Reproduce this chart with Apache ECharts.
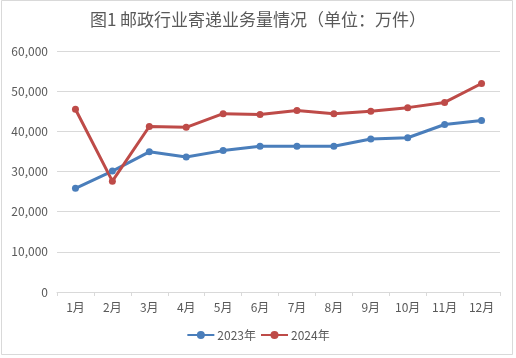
<!DOCTYPE html>
<html><head><meta charset="utf-8">
<script src="https://cdn.jsdelivr.net/npm/echarts@6/dist/echarts.min.js"></script>
<style>html,body{margin:0;padding:0;background:#fff}#c{width:516px;height:358px}</style>
</head><body><div id="c"></div>
<script>
const months = ['1月','2月','3月','4月','5月','6月','7月','8月','9月','10月','11月','12月'];
const s2023 = [25800, 30100, 34900, 33600, 35200, 36300, 36300, 36300, 38100, 38400, 41700, 42700];
const s2024 = [45500, 27600, 41200, 41000, 44400, 44200, 45200, 44400, 45000, 45900, 47200, 51900];
const seriesNames = ['2023年','2024年'];
const titleText = '图1 邮政行业寄递业务量情况（单位：万件）';

const chart = echarts.init(document.getElementById('c'), null, {renderer:'canvas'});
const font = "'Noto Sans CJK SC', 'Noto Sans', sans-serif";
chart.setOption({
  animation:false,
  backgroundColor:'#fff',
  graphic:[{type:'rect',shape:{x:1.5,y:0.5,width:511,height:354},style:{fill:'none',stroke:'#d9d9d9',lineWidth:1},silent:true}],
  title:{text:titleText,left:'center',top:6,textStyle:{fontFamily:font,fontSize:17,fontWeight:'normal',color:'#595959'}},
  legend:{bottom:12,left:'center',itemWidth:27,itemHeight:10,itemGap:4,icon:'',textStyle:{fontFamily:font,fontSize:12,color:'#595959',padding:[0,0,0,-2]},data:seriesNames},
  grid:{left:57,right:16,top:51,bottom:66,containLabel:false},
  xAxis:{type:'category',data:months,boundaryGap:true,
    axisLine:{lineStyle:{color:'#d9d9d9'}},
    axisTick:{show:true,alignWithLabel:false,length:4,lineStyle:{color:'#d9d9d9'}},
    axisLabel:{fontFamily:font,fontSize:12,color:'#595959',margin:9}},
  yAxis:{type:'value',min:0,max:60000,interval:10000,
    axisLine:{show:false},axisTick:{show:false},
    splitLine:{lineStyle:{color:'#d9d9d9'}},
    axisLabel:{fontFamily:font,fontSize:12,color:'#595959',margin:9,
      formatter:v=>v.toLocaleString('en-US')}},
  series:[
    {name:seriesNames[0],type:'line',data:s2023,symbol:'circle',symbolSize:7,
     itemStyle:{color:'#4a7ebb'},lineStyle:{width:3,color:'#4a7ebb'}},
    {name:seriesNames[1],type:'line',data:s2024,symbol:'circle',symbolSize:7,
     itemStyle:{color:'#be4b48'},lineStyle:{width:3,color:'#be4b48'}}
  ]
});
</script></body></html>
